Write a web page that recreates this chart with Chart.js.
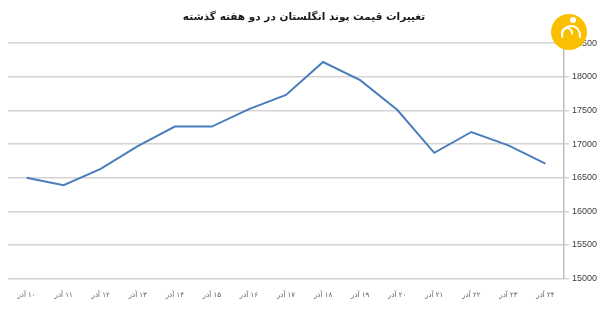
<!DOCTYPE html>
<html>
<head>
<meta charset="utf-8">
<script src="https://cdn.jsdelivr.net/npm/chart.js@4.4.0/dist/chart.umd.min.js"></script>
<style>
  html, body { margin: 0; padding: 0; background: #fff; }
  #wrap { width: 600px; height: 310px; }
</style>
</head>
<body>
<div id="wrap"><canvas id="lineChartPound" dir="rtl"></canvas></div>
<script>
// قیمت پوند در دو هفته گذشته
var days = ['۱۰ آذر', '۱۱ آذر', '۱۲ آذر', '۱۳ آذر', '۱۴ آذر', '۱۵ آذر', '۱۶ آذر', '۱۷ آذر',
            '۱۸ آذر', '۱۹ آذر', '۲۰ آذر', '۲۱ آذر', '۲۲ آذر', '۲۳ آذر', '۲۴ آذر'];
var poundPrices = [16500, 16390, 16630, 16970, 17260, 17260, 17520, 17730,
                   18220, 17950, 17510, 16870, 17180, 16980, 16710];
var yTicks = [15000, 15500, 16000, 16500, 17000, 17500, 18000, 18500];

// yellow badge in the top right corner
var badge = {
    id: 'badge',
    afterDraw: function(chart) {
        var ctx = chart.ctx;
        ctx.save();
        ctx.fillStyle = '#f8c000';
        ctx.beginPath();
        ctx.arc(569, 32, 18, 0, Math.PI * 2);
        ctx.fill();
        ctx.strokeStyle = '#fff';
        ctx.lineWidth = 2;
        ctx.beginPath();
        ctx.arc(571, 35, 9, Math.PI * 0.9, Math.PI * 2.1);
        ctx.stroke();
        ctx.beginPath();
        ctx.arc(567, 33, 5, Math.PI * 0.9, Math.PI * 2.1);
        ctx.stroke();
        ctx.fillStyle = '#fff';
        ctx.beginPath();
        ctx.arc(573, 20, 3, 0, Math.PI * 2);
        ctx.fill();
        ctx.restore();
    }
};

new Chart(document.getElementById('lineChartPound'), {
    type: 'line',
    data: {
        labels: days,
        datasets: [
            {
                label: 'قیمت پوند',
                data: poundPrices,
                borderColor: '#4a7ebb',
                borderWidth: 2,
                pointRadius: 0,
                tension: 0,
                fill: false
            }
        ]
    },
    options: {
        responsive: true,
        maintainAspectRatio: false,
        animation: false,
        layout: { padding: { left: 8, right: 0, top: 0, bottom: 7 } },
        plugins: {
            legend: { display: false },
            tooltip: { enabled: false },
            title: {
                display: true,
                text: 'تغییرات قیمت پوند انگلستان در دو هفته گذشته',
                color: '#1a1a1a',
                font: { family: 'DejaVu Sans', size: 10.5, weight: 'bold' },
                padding: { top: 11, bottom: 19.6 }
            }
        },
        scales: {
            x: {
                offset: true,
                grid: { display: false },
                border: { display: false },
                ticks: {
                    color: '#595959',
                    font: { family: 'DejaVu Sans', size: 7 },
                    padding: 4,
                    maxRotation: 0,
                    autoSkip: false
                }
            },
            y: {
                position: 'right',
                min: 15000,
                max: 18500,
                afterBuildTicks: function(axis) {
                    axis.ticks = yTicks.map(function(v) { return { value: v }; });
                },
                grid: { color: '#d4d4d4', lineWidth: 1.5, tickLength: 5 },
                border: { display: true, color: '#bfbfbf', width: 1.5 },
                ticks: {
                    color: '#404040',
                    font: { family: 'Liberation Sans', size: 9 },
                    padding: 3,
                    callback: function(v) { return String(v); }
                }
            }
        }
    },
    plugins: [badge]
});
</script>
</body>
</html>
